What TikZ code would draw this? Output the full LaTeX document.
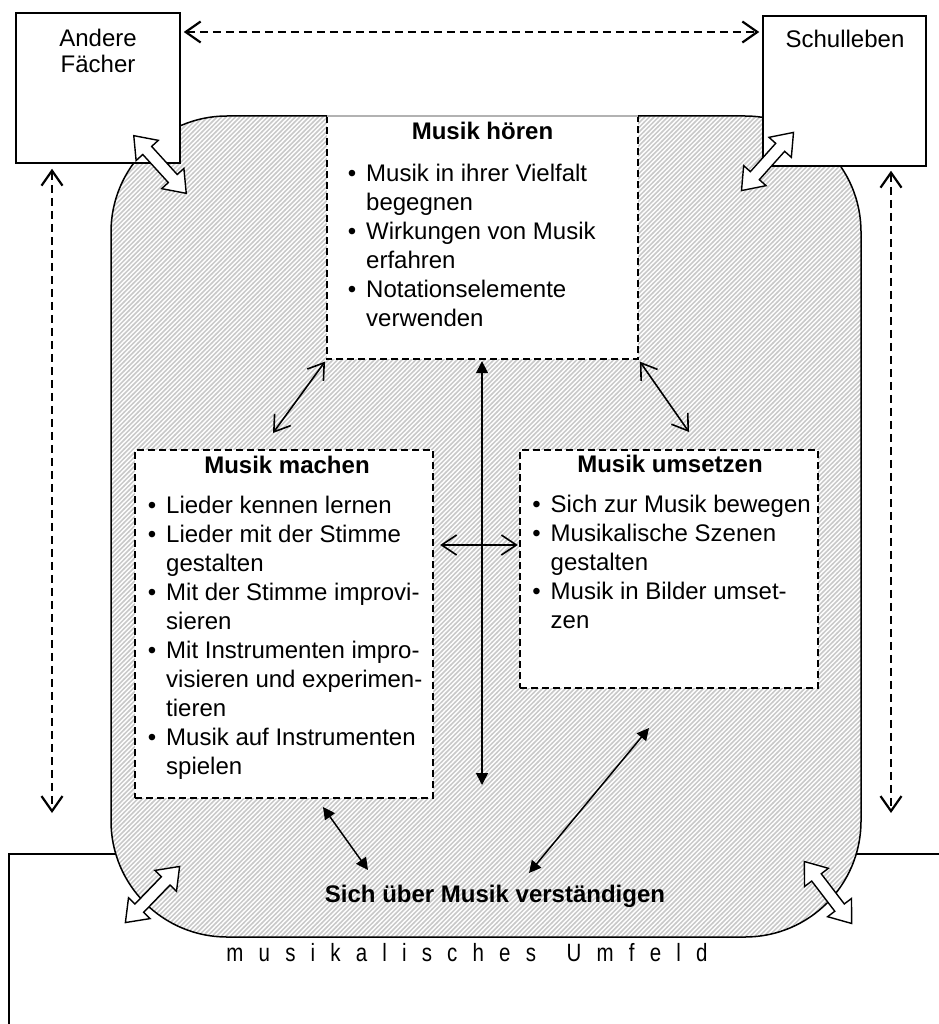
\documentclass[tikz,border=0pt]{standalone}
\usepackage{fontspec}
\setmainfont{Liberation Sans}
\usepackage{graphicx}
\usetikzlibrary{arrows.meta,patterns}
\pgfdeclarepatternformonly{hatch}{\pgfqpoint{-1pt}{-1pt}}{\pgfqpoint{5.6pt}{5.6pt}}{\pgfqpoint{4.6pt}{4.6pt}}{%
  \pgfsetlinewidth{1.5pt}%
  \pgfpathmoveto{\pgfqpoint{-0.2pt}{-0.2pt}}%
  \pgfpathlineto{\pgfqpoint{4.8pt}{4.8pt}}%
  \pgfusepath{stroke}}
\newcommand{\bl}{\leavevmode\llap{\textbullet\hspace{10pt}}}
\tikzset{
  txt/.style={font=\fontsize{24}{29}\selectfont, inner sep=0pt},
  ttl/.style={font=\bfseries\fontsize{24}{29}\selectfont, inner sep=0pt, anchor=base},
  solidbox/.style={draw, line width=1.5pt, fill=white, inner sep=0pt},
  dashbox/.style={draw, line width=2.3pt, dash pattern=on 7pt off 4pt, fill=white, inner sep=0pt},
  dashedge/.style={line width=2.3pt, dash pattern=on 7pt off 4pt},
  openarr/.style={line width=1.6pt, {Straight Barb[length=15pt,width=20pt]}-{Straight Barb[length=15pt,width=20pt]}},
  filledarr/.style={line width=1.5pt, {Triangle[length=12pt,width=12pt]}-{Triangle[length=12pt,width=12pt]}},
  dasharr/.style={line width=2.2pt, dash pattern=on 8pt off 5pt, {Straight Barb[length=15pt,width=21pt]}-{Straight Barb[length=15pt,width=21pt]}},
  hollow/.pic={\draw[line width=1.4pt, fill=white, line join=miter]
    (-39,0) -- (-19,15) -- (-19,6) -- (19,6) -- (19,15) -- (39,0) -- (19,-15) -- (19,-6) -- (-19,-6) -- (-19,-15) -- cycle;}
}
\begin{document}
\begin{tikzpicture}[x=1pt,y=-1pt]
\useasboundingbox (0,0) rectangle (938,1024);

% musical environment frame
\draw[line width=1.5pt] (9,1060) -- (9,854) -- (960,854);

% hatched central region
\node[draw, line width=1.5pt, rounded corners=116pt, preaction={fill=white},
      pattern=hatch, pattern color=gray!42, minimum width=750pt, minimum height=821pt,
      inner sep=0pt] (reg) at (486,526.5) {};

% outer boxes
\node[solidbox, minimum width=164pt, minimum height=150pt] (af) at (98,88) {};
\node[solidbox, minimum width=163pt, minimum height=150pt] (sl) at (844.5,91) {};
\node[txt, anchor=base] (afT) at (98,47) {\parbox[t]{150pt}{\centering\fontsize{24}{26}\selectfont Andere\\Fächer}};
\node[txt, anchor=base] (slT) at (845,48) {Schulleben};

% Musik hoeren
\node[fill=white, minimum width=311pt, minimum height=243pt, inner sep=0pt] (mh) at (482.5,237.5) {};
\draw[dashedge] (mh.north west) -- (mh.south west) -- (mh.south east) -- (mh.north east);
\draw[gray!60, line width=2pt] (mh.north west) -- (mh.north east);
\node[ttl] (mhT) at (482.5,139.3) {Musik hören};
\node[txt, anchor=base west] (mhL) at (366,181.7) {\parbox[t]{400pt}{\fontsize{24}{29}\selectfont\raggedright
  \bl Musik in ihrer Vielfalt\\ begegnen\\
  \bl Wirkungen von Musik\\ erfahren\\
  \bl Notationselemente\\ verwenden}};

% Musik machen
\node[dashbox, minimum width=298pt, minimum height=348pt] (mm) at (284,624) {};
\node[ttl] (mmT) at (287,473.3) {Musik machen};
\node[txt, anchor=base west] (mmL) at (166,513.3) {\parbox[t]{400pt}{\fontsize{24}{29}\selectfont\raggedright
  \bl Lieder kennen lernen\\
  \bl Lieder mit der Stimme\\ gestalten\\
  \bl Mit der Stimme improvi-\\ sieren\\
  \bl Mit Instrumenten impro-\\ visieren und experimen-\\ tieren\\
  \bl Musik auf Instrumenten\\ spielen}};

% Musik umsetzen
\node[dashbox, minimum width=298pt, minimum height=238pt] (mu) at (669,569) {};
\node[ttl] (muT) at (670,472.3) {Musik umsetzen};
\node[txt, anchor=base west] (muL) at (550.5,512.3) {\parbox[t]{400pt}{\fontsize{24}{29}\selectfont\raggedright
  \bl Sich zur Musik bewegen\\
  \bl Musikalische Szenen\\ gestalten\\
  \bl Musik in Bilder umset-\\ zen}};

% bottom labels
\node[ttl] (sum) at (495,902) {Sich über Musik verständigen};
\node[inner sep=0pt, anchor=base] (um) at (467,961.7) {\scalebox{0.82}[1]{\fontsize{25}{30}\selectfont\addfontfeature{LetterSpace=74}musikalisches\hspace{12pt} Umfeld}};

% coordinates
\coordinate (ty) at (0,32);
\coordinate (lb) at (52,813);
\coordinate (rb) at (891,813);
\coordinate (vb) at (482,785);
\coordinate (hy) at (0,545);
\coordinate (d1) at (273,433);
\coordinate (d2) at (689,432);
\coordinate (d3a) at (323,807);
\coordinate (d3b) at (368,870);
\coordinate (d4a) at (649,728);
\coordinate (d4b) at (529,873);

% dashed arrows
\draw[dasharr, shorten <=3pt, shorten >=3pt] (af.east |- ty) -- (sl.west |- ty);
\draw[dasharr, shorten <=5pt] (af.south -| lb) -- (lb);
\draw[dasharr, shorten <=4pt] (sl.south -| rb) -- (rb);

% solid arrows
\draw[filledarr, shorten <=2pt] (mh.south -| vb) -- (vb);
\draw[openarr, shorten <=6pt, shorten >=1pt] (mm.east |- hy) -- (mu.west |- hy);
\draw[openarr, shorten <=3pt] (mh.south west) -- (d1);
\draw[openarr, shorten <=3pt] (mh.south east) -- (d2);
\draw[filledarr] (d3a) -- (d3b);
\draw[filledarr] (d4a) -- (d4b);

% hollow double arrows
\pic[rotate=-47.7] at (160,164.5) {hollow};
\pic[rotate=48.2] at (767.5,161.5) {hollow};
\pic[rotate=46] at (152.5,894.5) {hollow};
\pic[rotate=-52.6] at (828,892.5) {hollow};
\end{tikzpicture}
\end{document}
